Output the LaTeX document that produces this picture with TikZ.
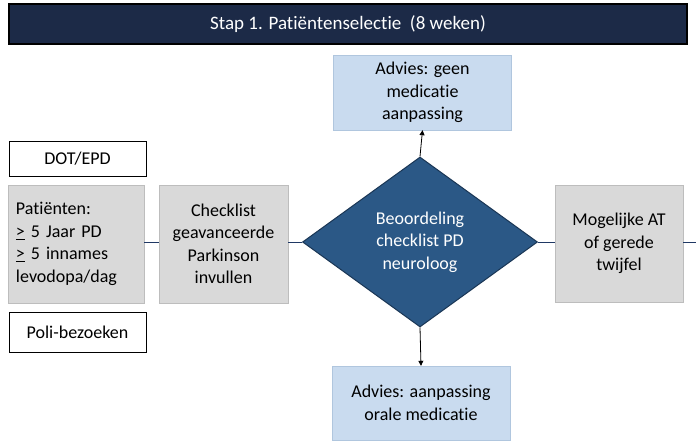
\documentclass[tikz,border=0pt]{standalone}
\usepackage{fontspec}
\setmainfont{Carlito}[Ligatures=NoCommon]
\usetikzlibrary{shapes.geometric,arrows.meta}
\definecolor{kopblauw}{HTML}{1C2A47}
\definecolor{ruitblauw}{HTML}{2B5886}
\definecolor{ruitrand}{HTML}{1A3655}
\definecolor{adviesblauw}{HTML}{C9DBEF}
\definecolor{adviesrand}{HTML}{B0C6DE}
\definecolor{grijsvak}{HTML}{D9D9D9}
\definecolor{grijsrand}{HTML}{BDBDBD}
\definecolor{lijnblauw}{HTML}{1F3864}
\begin{document}
\begin{tikzpicture}[x=1pt, y=-1pt, font=\fontsize{18}{22.5}\selectfont]
	\tikzset{
		kop/.style={draw=black, line width=2pt, fill=kopblauw, text=white, minimum width=678pt, minimum height=40pt, inner sep=0pt, font=\fontsize{19}{22}\selectfont},
		advies/.style={draw=adviesrand, fill=adviesblauw, minimum width=178pt, inner sep=0pt, align=center},
		stapvak/.style={draw=grijsrand, fill=grijsvak, minimum height=118pt, inner sep=0pt},
		bronvak/.style={draw=black, fill=white, minimum width=137pt, inner sep=0pt},
		ruit/.style={diamond, draw=ruitrand, line width=1pt, fill=ruitblauw, text=white, minimum width=235pt, minimum height=170pt, inner sep=0pt, align=center},
		verbind/.style={lijnblauw, line width=0.8pt},
		pijl/.style={black, line width=0.8pt, -{Triangle[length=5pt,width=5pt]}}
	}
	\useasboundingbox (0,0) rectangle (696,443);
	% kopbalk
	\node [kop] (kop) at (348,24) {Stap 1. Patiëntenselectie\ \ (8 weken)};
	% linkerkolom
	\node [bronvak, minimum height=35pt] (dot) at (77.5,158.5) {DOT/EPD};
	\node [stapvak, minimum width=136pt, text width=120pt, align=left] (pat) at (76,244)
		{Patiënten:\\ \underline{>} 5 Jaar PD\\ \underline{>} 5 innames\\ levodopa/dag};
	\node [bronvak, minimum height=40pt] (poli) at (77.5,332) {Poli-bezoeken};
	\node [stapvak, minimum width=129pt, align=center] (check) at (223.5,244)
		{Checklist\\ geavanceerde\\ Parkinson\\ invullen};
	% beoordeling
	\node [ruit] (ruit) at (420,242) {Beoordeling\\ checklist PD\\ neuroloog};
	\node [advies, minimum height=75pt] (geen) at (422.5,92.5) {Advies: geen\\ medicatie\\ aanpassing};
	\node [advies, minimum height=74pt] (oraal) at (421,403) {Advies: aanpassing\\ orale medicatie};
	\node [stapvak, minimum width=128pt, minimum height=117pt, align=center] (at) at (619,243.5)
		{Mogelijke AT\\ of gerede\\ twijfel};
	\coordinate (rand) at (696,242);
	% verbindingen
	\draw [verbind] (pat.east |- 0,242) -- (check.west |- 0,242);
	\draw [verbind] (check.east |- 0,242) -- (ruit.west);
	\draw [verbind] (ruit.east) -- (at.west |- ruit.east);
	\draw [verbind] (at.east |- rand) -- (rand);
	\draw [pijl] (ruit.north) -- (geen.south);
	\draw [pijl] (ruit.south) -- (oraal.north);
\end{tikzpicture}
\end{document}
